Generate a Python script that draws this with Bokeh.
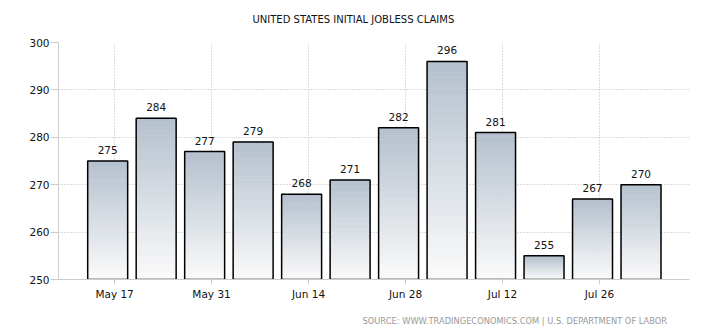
import pandas as pd
from bokeh.plotting import figure
from bokeh.models import ColumnDataSource, FixedTicker, DatetimeTickFormatter, Range1d, Title
from bokeh.core.properties import value
from bokeh.embed import file_html
from bokeh.resources import INLINE

# ---- data ----
week_dates = ["2014-05-16", "2014-05-23", "2014-05-30", "2014-06-06", "2014-06-13", "2014-06-20",
              "2014-06-27", "2014-07-04", "2014-07-11", "2014-07-18", "2014-07-25", "2014-08-01"]
claims = [275, 284, 277, 279, 268, 271, 282, 296, 281, 255, 267, 270]
tick_dates = ["2014-05-17", "2014-05-31", "2014-06-14", "2014-06-28", "2014-07-12", "2014-07-26"]
y_ticks = [250, 260, 270, 280, 290, 300]
title_text = "UNITED STATES INITIAL JOBLESS CLAIMS"
source_text = "SOURCE:  WWW.TRADINGECONOMICS.COM  |  U.S.  DEPARTMENT  OF  LABOR"

DAY = 24 * 3600 * 1000
xs = [pd.Timestamp(d).value // 10**6 for d in week_dates]
xticks = [pd.Timestamp(d).value // 10**6 for d in tick_dates]
bar_w = 5.77 * DAY
y0 = 250
FONT = "DejaVu Sans"

p = figure(width=710, height=336, output_backend="svg", toolbar_location=None,
           x_axis_type="datetime",
           x_range=Range1d(xticks[0] - 8.1 * DAY, xticks[0] + 83 * DAY),
           y_range=Range1d(250, 300),
           min_border_left=58, min_border_right=21, min_border_top=42, min_border_bottom=57)
p.outline_line_color = None
p.background_fill_color = "white"
p.border_fill_color = "white"

# gradient fill per bar (slices)
N = 40
top_c = (0xb4, 0xc0, 0xcd)
bot_c = (0xfb, 0xfb, 0xfb)
L, R, B, T, C = [], [], [], [], []
for x, v in zip(xs, claims):
    for k in range(N):
        f = (k + 0.5) / N
        col = tuple(int(round(bot_c[i] + (top_c[i] - bot_c[i]) * f)) for i in range(3))
        L.append(x - bar_w / 2)
        R.append(x + bar_w / 2)
        B.append(y0 + (v - y0) * k / N)
        T.append(y0 + (v - y0) * (k + 1) / N)
        C.append("#%02x%02x%02x" % col)
p.quad(left=L, right=R, bottom=B, top=T, fill_color=C, line_color=C, line_width=0.6)

src = ColumnDataSource(dict(x=xs, v=claims, lab=[str(c) for c in claims]))
p.vbar(x="x", top="v", bottom=y0, width=bar_w, source=src, fill_alpha=0,
       line_color="black", line_width=1.5)
p.text(x="x", y="v", text="lab", source=src, text_align="center", text_baseline="alphabetic",
       y_offset=-11, text_font_size="10.5px", text_color="#111111", text_font=value(FONT))

# axes
p.xaxis.ticker = FixedTicker(ticks=xticks)
p.xaxis.formatter = DatetimeTickFormatter(days="%b %d", months="%b %d", hours="%b %d")
p.yaxis.ticker = FixedTicker(ticks=y_ticks)
for ax in (p.xaxis, p.yaxis):
    ax.axis_line_color = "#cccccc"
    ax.major_tick_line_color = "#cccccc"
    ax.minor_tick_line_color = None
    ax.major_tick_in = 0
    ax.major_label_text_font = FONT
    ax.major_label_text_font_size = "10.5px"
    ax.major_label_text_color = "#111111"
p.yaxis.major_tick_out = 8
p.xaxis.major_tick_out = 5
p.yaxis.major_label_standoff = 1
p.xaxis.major_label_standoff = 3

for g in (p.xgrid, p.ygrid):
    g.grid_line_color = "#bbbbbb"
    g.grid_line_dash = "1 2"
    g.grid_line_width = 1

p.title.text = title_text
p.title.align = "left"
p.title.offset = 194
p.title.padding = (0, 0, 0, 13)
p.title.text_font = FONT
p.title.text_font_size = "10px"
p.title.text_font_style = "normal"
p.title.text_color = "#111111"

p.add_layout(Title(text=source_text, align="left", offset=304, padding=(0, 0, 6, 0),
                   text_font=FONT, text_font_size="8.3px", text_font_style="normal",
                   text_color="#999999"), "below")

open("out.html", "w").write(file_html(p, INLINE))
